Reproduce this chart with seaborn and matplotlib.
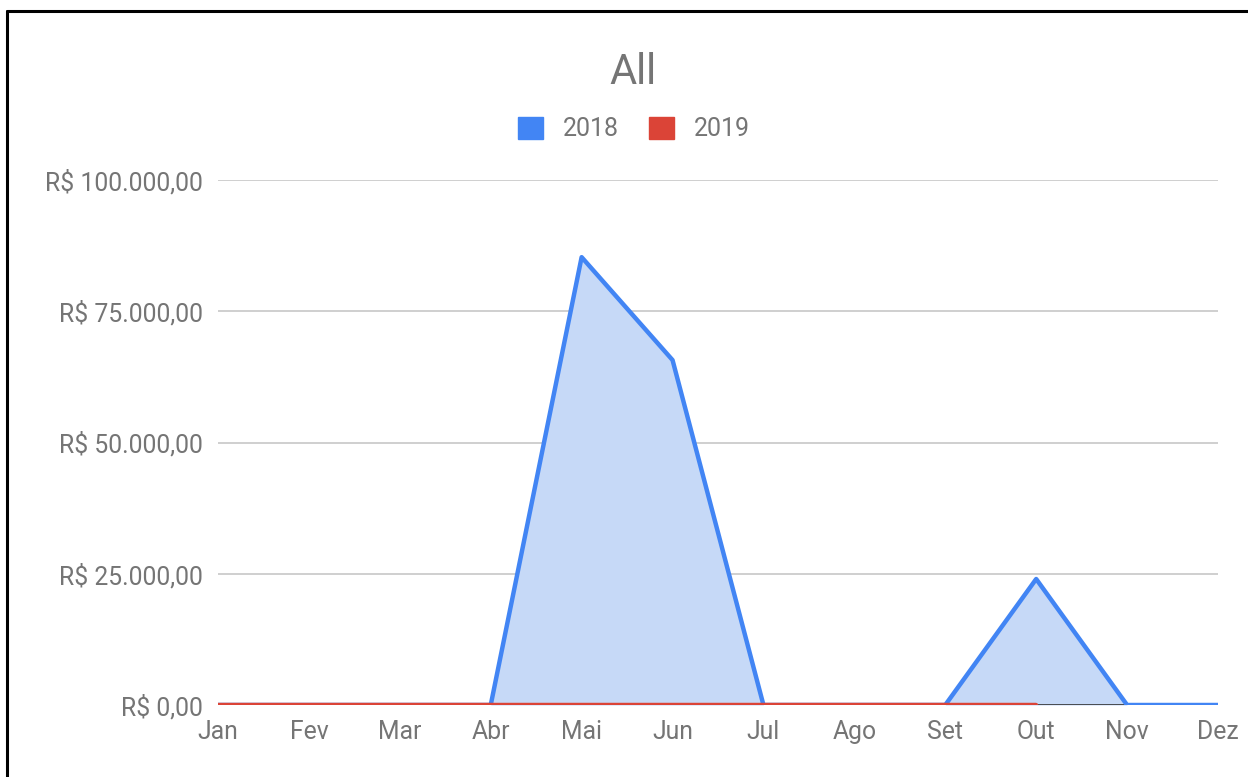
import numpy as np
import pandas as pd
import matplotlib
matplotlib.use("Agg")
import matplotlib.pyplot as plt
import seaborn as sns
from matplotlib.patches import Patch
from matplotlib.lines import Line2D

months = ["Jan", "Fev", "Mar", "Abr", "Mai", "Jun", "Jul", "Ago", "Set", "Out", "Nov", "Dez"]
values_2018 = [0, 0, 0, 0, 85300, 65700, 0, 0, 0, 24000, 0, 0]
values_2019 = [0, 0, 0, 0, 0, 0, 0, 0, 0, 0, np.nan, np.nan]
y_ticks = [0, 25000, 50000, 75000, 100000]
y_labels = ["R$ 0,00", "R$ 25.000,00", "R$ 50.000,00", "R$ 75.000,00", "R$ 100.000,00"]

sns.set_theme(style="white")
plt.rcParams['font.family'] = ['Roboto', 'DejaVu Sans']

BLUE = "#4285F4"
RED = "#DB4437"
GRAY = "#757575"

df = pd.DataFrame({
    "idx": list(range(12)) * 2,
    "Mes": months * 2,
    "Valor": values_2018 + values_2019,
    "Ano": ["2018"] * 12 + ["2019"] * 12,
})

fig = plt.figure(figsize=(12.48, 7.77), dpi=100)
W, H = 1248, 777
ax = fig.add_axes([218 / W, (H - 705) / H, (1218 - 218) / W, (705 - 180) / H])

x = np.arange(12)
ax.fill_between(x, values_2018, 0, color="#c6d9f7", zorder=1, linewidth=0)
ax.axhline(0, color="#333333", lw=1.2, zorder=2)
sns.lineplot(data=df[df.Ano == "2018"], x="idx", y="Valor", color=BLUE, lw=3.2, ax=ax, zorder=3, legend=False)
sns.lineplot(data=df[df.Ano == "2019"].dropna(), x="idx", y="Valor", color=RED, lw=3.2, ax=ax, zorder=4, legend=False)

ax.set_xlim(0, 11)
ax.set_ylim(0, 100000)
ax.set_yticks(y_ticks)
ax.set_yticklabels(y_labels)
ax.set_xticks(x)
ax.set_xticklabels(months)
ax.set_xlabel("")
ax.set_ylabel("")
for s in ax.spines.values():
    s.set_visible(False)
ax.grid(axis="y", color="#cccccc", lw=1.3, zorder=0)
ax.grid(axis="x", visible=False)
ax.tick_params(axis="y", length=0, pad=11, labelsize=17.8, labelcolor=GRAY)
ax.tick_params(axis="x", length=0, pad=11, labelsize=17.8, labelcolor=GRAY)
ax.set_axisbelow(True)

fig.text(633 / W, 1 - 72 / H, "All", ha="center", va="center", fontsize=30, color=GRAY)

handles = [Patch(facecolor=BLUE, edgecolor=BLUE, label="2018"),
           Patch(facecolor=RED, edgecolor=RED, label="2019")]
leg = fig.legend(handles=handles, loc="center", bbox_to_anchor=(634 / W, 1 - 129 / H), ncol=2,
                 frameon=False, fontsize=18, handlelength=1.0, handleheight=1.0,
                 handletextpad=0.8, columnspacing=1.2)
for t in leg.get_texts():
    t.set_color(GRAY)

fig.add_artist(Line2D([7 / W, 1], [1 - 11 / H, 1 - 11 / H], color="black", lw=2.2, transform=fig.transFigure))
fig.add_artist(Line2D([7 / W, 7 / W], [0, 1 - 11 / H], color="black", lw=2.2, transform=fig.transFigure))

fig.savefig("out.png", dpi=100, facecolor="white")
